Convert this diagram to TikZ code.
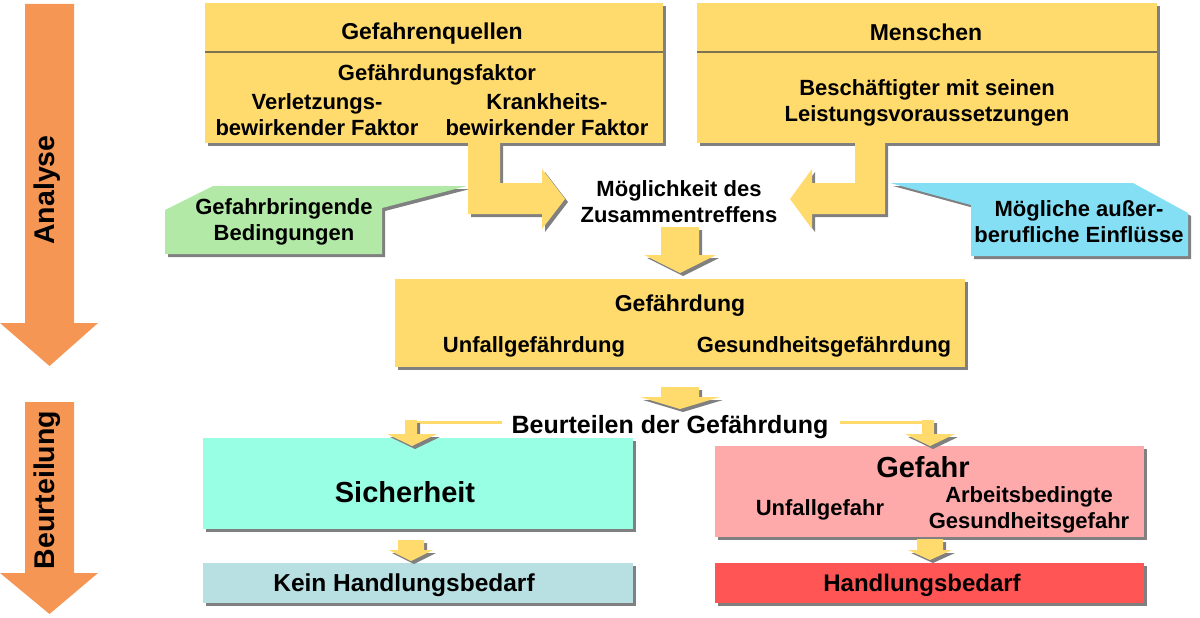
\documentclass[tikz,border=0pt]{standalone}
\usepackage{fontspec}
\setmainfont{Liberation Sans}
\usetikzlibrary{shadows}
\definecolor{yel}{RGB}{255,219,110}
\definecolor{shadowgray}{RGB}{128,128,128}
\definecolor{grn}{RGB}{178,233,166}
\definecolor{blu}{RGB}{132,223,245}
\definecolor{cyn}{RGB}{153,255,228}
\definecolor{pnk}{RGB}{255,170,170}
\definecolor{lbl}{RGB}{184,224,226}
\definecolor{rdd}{RGB}{255,85,85}
\definecolor{org}{RGB}{245,150,85}
\definecolor{divc}{RGB}{125,115,80}
\begin{document}
\begin{tikzpicture}[x=1pt,y=-1pt,
  withshadow/.style={drop shadow={shadow xshift=3pt,shadow yshift=-3pt,fill=shadowgray,opacity=1}},
  boxstyle/.style={withshadow,draw=none,inner sep=0pt,outer sep=0pt},
  yarrow/.style={fill=yel,withshadow},
  oarrow/.style={fill=org},
  divider/.style={draw=divc,line width=2.5pt},
  branch/.style={draw=yel,line width=3pt},
  txt/.style={font=\fontsize{22}{26}\selectfont\bfseries,align=center,inner sep=0pt},
  headtxt/.style={font=\fontsize{23}{26}\selectfont\bfseries,inner sep=0pt},
  bigtxt/.style={font=\fontsize{29}{32}\selectfont\bfseries,inner sep=0pt},
  midtxt/.style={font=\fontsize{24.5}{28}\selectfont\bfseries,inner sep=0pt},
  sidetxt/.style={font=\fontsize{28.5}{32}\selectfont\bfseries,inner sep=0pt,rotate=90}
]
\useasboundingbox (0,0) rectangle (1200,618);

% left orange arrows
\path[oarrow] (25,4) -- (74,4) -- (74,323) -- (98,323) -- (49.5,366) -- (0,323) -- (25,323) -- cycle;
\node[sidetxt] (an) at (47,190) {Analyse};
\path[oarrow] (25,402) -- (74,402) -- (74,573) -- (98,573) -- (49.5,614) -- (0,573) -- (25,573) -- cycle;
\node[sidetxt] (bu) at (47,490) {Beurteilung};

% top boxes
\node[boxstyle,fill=yel,minimum width=458pt,minimum height=140pt] (gq) at (434,73) {};
\draw[divider] (gq.west |- 0,52) -- (gq.east |- 0,52);
\node[headtxt] (gqt) at (432,34) {Gefahrenquellen};
\node[txt] (gf) at (437,74.5) {Gefährdungsfaktor};
\node[txt] (vf) at (317,114.5) {Verletzungs-\\bewirkender Faktor};
\node[txt] (kf) at (547,114.5) {Krankheits-\\bewirkender Faktor};

\node[boxstyle,fill=yel,minimum width=460pt,minimum height=140pt] (me) at (927,73) {};
\draw[divider] (me.west |- 0,52) -- (me.east |- 0,52);
\node[headtxt] (met) at (926,32) {Menschen};
\node[txt] (be) at (927,102.5) {Beschäftigter mit seinen\\Leistungsvoraussetzungen};

% callouts
\path[fill=grn,withshadow] (467,186) -- (213,186) -- (165,210) -- (165,254) -- (382,254) -- (382,208) -- cycle;
\node[txt] (gb) at (284,222) {Gefahrbringende\\Bedingungen};
\path[fill=blu,withshadow] (890,183) -- (1133,183) -- (1188,213) -- (1188,256) -- (971,256) -- (971,205) -- cycle;
\node[txt] (ma) at (1079,222) {Mögliche außer-\\berufliche Einflüsse};

% L arrows
\path[yarrow] (468,141) -- (500,141) -- (500,183) -- (542,183) -- (542,169) -- (565,199) -- (542,229) -- (542,214) -- (468,214) -- cycle;
\path[yarrow] (855,141) -- (885,141) -- (885,214) -- (812,214) -- (812,229) -- (790,199) -- (812,169) -- (812,183) -- (855,183) -- cycle;
\node[txt] (mz) at (679,202) {Möglichkeit des\\Zusammentreffens};

% down arrow 1
\path[yarrow] (661,227) -- (699,227) -- (699,255) -- (716,255) -- (680,273) -- (644,255) -- (661,255) -- cycle;

% Gefaehrdung box
\node[boxstyle,fill=yel,minimum width=570pt,minimum height=88pt] (gd) at (680,323) {};
\node[headtxt] (gdt) at (680,306) {Gefährdung};
\node[txt] (ug) at (534,347) {Unfallgefährdung};
\node[txt] (sg) at (824,347) {Gesundheitsgefährdung};

% down arrow 2
\path[yarrow] (661,387) -- (699,387) -- (699,397) -- (720,397) -- (680,409) -- (640,397) -- (661,397) -- cycle;

\node[font=\fontsize{25}{28}\selectfont\bfseries,inner sep=0pt] (bg) at (670,427) {Beurteilen der Gefährdung};

% lower boxes
\node[boxstyle,fill=cyn,minimum width=430pt,minimum height=91pt] (si) at (418,483.5) {};
\node[bigtxt] (sit) at (405,492) {Sicherheit};
\node[boxstyle,fill=pnk,minimum width=429pt,minimum height=91pt] (ge) at (929.5,491.5) {};
\node[bigtxt] (get) at (923,467) {Gefahr};
\node[txt] (uf) at (820,510) {Unfallgefahr};
\node[txt] (ag) at (1029,510) {Arbeitsbedingte\\Gesundheitsgefahr};

\node[boxstyle,fill=lbl,minimum width=430pt,minimum height=40pt] (kh) at (418,583) {};
\node[midtxt] (kht) at (404,585) {Kein Handlungsbedarf};
\node[boxstyle,fill=rdd,minimum width=429pt,minimum height=40pt] (hb) at (929.5,583) {};
\node[font=\fontsize{24}{28}\selectfont\bfseries,inner sep=0pt] (hbt) at (922,585) {Handlungsbedarf};

% branches
\coordinate (bls) at (502,422);
\coordinate (ble) at (405,422);
\coordinate (brs) at (840,422);
\coordinate (bre) at (934,422);
\draw[branch] (bls) -- (ble);
\draw[branch] (brs) -- (bre);
\path[yarrow] (405,420) -- (417,420) -- (417,434) -- (437,434) -- (412,446) -- (387,434) -- (405,434) -- cycle;
\path[yarrow] (922,420) -- (934,420) -- (934,434) -- (955,434) -- (930,446) -- (905,434) -- (922,434) -- cycle;

% small arrows
\path[yarrow] (398,540) -- (424,540) -- (424,550) -- (433,550) -- (411,561) -- (389,550) -- (398,550) -- cycle;
\path[yarrow] (917,539) -- (943,539) -- (943,550) -- (952,550) -- (930,560) -- (908,550) -- (917,550) -- cycle;
\end{tikzpicture}
\end{document}
